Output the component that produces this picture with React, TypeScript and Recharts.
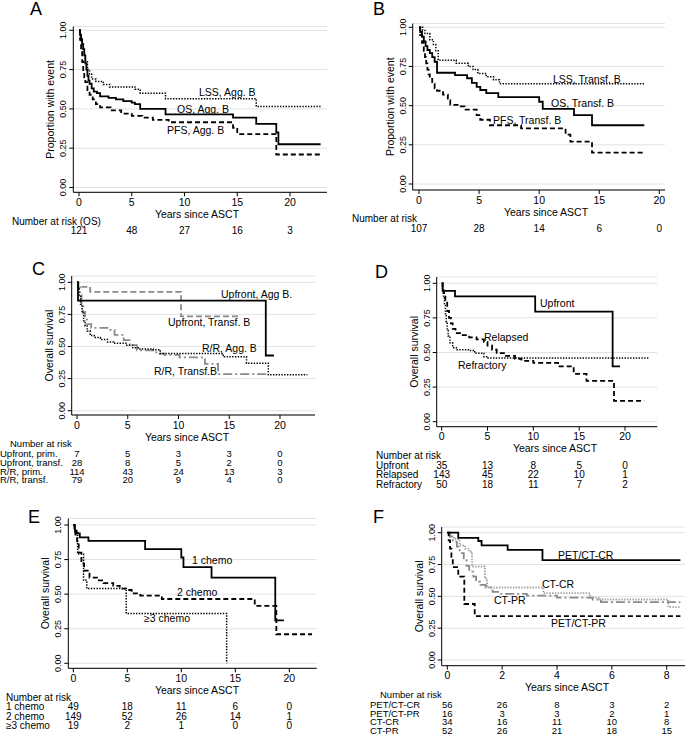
import React from "react";
import { LineChart, Line, XAxis, YAxis, CartesianGrid } from "recharts";

const FONT = "'Liberation Sans', Arial, Helvetica, sans-serif";

// Kaplan-Meier steps: [years since ASCT, proportion]
// A - aggressive B
const lssAggB = [[0, 1], [0.1, 0.98], [0.2, 0.95], [0.3, 0.92], [0.4, 0.88], [0.5, 0.84], [0.6, 0.8], [0.8, 0.75], [1.0, 0.72], [1.2, 0.69], [1.6, 0.675], [2.3, 0.655], [2.9, 0.64], [5.3, 0.625], [5.8, 0.6], [8.2, 0.565], [16.8, 0.515], [22.9, 0.515]];
const osAggB = [[0, 1], [0.1, 0.97], [0.2, 0.94], [0.3, 0.91], [0.4, 0.88], [0.5, 0.84], [0.6, 0.79], [0.7, 0.75], [0.8, 0.71], [0.9, 0.68], [1.0, 0.66], [1.2, 0.63], [1.4, 0.61], [1.7, 0.6], [2.0, 0.58], [2.8, 0.57], [3.5, 0.56], [4.2, 0.55], [5.0, 0.54], [5.3, 0.53], [5.8, 0.5], [8.2, 0.465], [14.6, 0.445], [16.8, 0.405], [18.7, 0.35], [18.9, 0.275], [22.9, 0.275]];
const pfsAggB = [[0, 1], [0.1, 0.94], [0.2, 0.87], [0.3, 0.8], [0.4, 0.74], [0.5, 0.7], [0.6, 0.67], [0.8, 0.62], [1.0, 0.59], [1.3, 0.56], [1.6, 0.53], [2.0, 0.51], [3.0, 0.49], [4.0, 0.47], [5.0, 0.455], [6.0, 0.445], [7.0, 0.43], [8.5, 0.415], [14.6, 0.38], [15.0, 0.34], [18.7, 0.21], [22.9, 0.21]];

// B - transformed B
const lssTrB = [[0, 1], [0.3, 0.98], [0.5, 0.96], [0.9, 0.92], [1.2, 0.89], [1.4, 0.85], [1.6, 0.79], [3.1, 0.77], [4.1, 0.75], [4.5, 0.73], [4.9, 0.705], [5.6, 0.685], [6.2, 0.665], [6.7, 0.64], [18.75, 0.64]];
const osTrB = [[0, 1], [0.1, 0.97], [0.25, 0.94], [0.4, 0.91], [0.55, 0.88], [0.7, 0.855], [0.9, 0.835], [1.1, 0.81], [1.3, 0.78], [1.5, 0.71], [3.0, 0.695], [4.0, 0.675], [4.4, 0.645], [4.8, 0.62], [5.1, 0.6], [5.6, 0.58], [6.6, 0.555], [10.0, 0.525], [10.3, 0.48], [12.9, 0.44], [14.4, 0.375], [18.75, 0.375]];
const pfsTrB = [[0, 1], [0.1, 0.95], [0.25, 0.9], [0.4, 0.85], [0.5, 0.81], [0.6, 0.77], [0.7, 0.73], [0.8, 0.7], [0.9, 0.67], [1.1, 0.64], [1.3, 0.61], [1.5, 0.595], [2.0, 0.57], [2.4, 0.535], [2.6, 0.505], [3.4, 0.495], [3.8, 0.475], [4.8, 0.44], [5.1, 0.41], [5.9, 0.375], [8.5, 0.355], [12.2, 0.315], [12.6, 0.27], [14.4, 0.2], [18.75, 0.2]];

// C - upfront vs relapsed/refractory by histology
const upAggC = [[0, 1], [0.1, 0.857], [18.6, 0.43], [19.4, 0.43]];
const upTrC = [[0, 1], [0.1, 0.964], [1.3, 0.925], [10.25, 0.735], [15.9, 0.735]];
const rrAggC = [[0, 1], [0.1, 0.95], [0.2, 0.9], [0.35, 0.83], [0.5, 0.76], [0.65, 0.7], [0.8, 0.66], [1.0, 0.62], [1.3, 0.585], [1.7, 0.57], [2.3, 0.555], [3.0, 0.535], [3.6, 0.525], [4.9, 0.51], [5.5, 0.49], [6.2, 0.48], [7.5, 0.475], [8.2, 0.445], [14.4, 0.42], [16.7, 0.37], [18.85, 0.28], [22.7, 0.28]];
const rrTrC = [[0, 1], [0.15, 0.96], [0.3, 0.9], [0.45, 0.83], [0.6, 0.77], [0.8, 0.71], [1.0, 0.675], [1.4, 0.645], [3.1, 0.63], [3.7, 0.59], [4.6, 0.55], [5.2, 0.51], [5.9, 0.47], [7.8, 0.445], [8.6, 0.435], [10.1, 0.415], [12.6, 0.365], [13.9, 0.285], [18.7, 0.285]];

// D - disease status
const upfrontD = [[0, 1], [0.1, 0.945], [1.45, 0.905], [10.2, 0.795], [18.65, 0.4], [19.45, 0.4]];
const relapsedD = [[0, 1], [0.1, 0.97], [0.2, 0.93], [0.4, 0.87], [0.6, 0.8], [0.8, 0.75], [1.0, 0.71], [1.2, 0.67], [1.5, 0.64], [2.0, 0.625], [3.0, 0.61], [3.8, 0.595], [4.6, 0.575], [5.0, 0.55], [5.5, 0.52], [6.0, 0.495], [7.0, 0.475], [8.0, 0.455], [8.7, 0.44], [10.0, 0.425], [12.7, 0.4], [14.4, 0.345], [15.8, 0.295], [18.8, 0.15], [22.1, 0.15]];
const refractoryD = [[0, 1], [0.1, 0.95], [0.2, 0.9], [0.3, 0.84], [0.4, 0.78], [0.5, 0.72], [0.6, 0.66], [0.7, 0.62], [0.9, 0.57], [1.2, 0.535], [1.6, 0.52], [3.0, 0.515], [3.6, 0.495], [4.6, 0.47], [4.9, 0.46], [22.7, 0.46]];

// E - lines of chemotherapy
const chemo1E = [[0, 1], [0.15, 0.96], [0.3, 0.94], [0.6, 0.91], [1.4, 0.885], [6.65, 0.825], [10.0, 0.765], [10.2, 0.695], [12.8, 0.62], [18.7, 0.31], [19.5, 0.31]];
const chemo2E = [[0, 1], [0.1, 0.96], [0.2, 0.93], [0.35, 0.87], [0.5, 0.8], [0.75, 0.72], [1.0, 0.67], [1.5, 0.62], [2.2, 0.6], [2.8, 0.58], [3.7, 0.56], [4.3, 0.54], [4.9, 0.53], [5.4, 0.505], [6.2, 0.49], [8.2, 0.465], [16.8, 0.415], [18.8, 0.21], [22.1, 0.21]];
const chemo3E = [[0, 1], [0.15, 0.947], [0.4, 0.79], [0.95, 0.6], [1.25, 0.54], [4.9, 0.36], [14.2, 0.0]];

// F - response before ASCT
const petCrF = [[0, 1], [0.4, 0.96], [1.13, 0.935], [1.25, 0.9], [2.2, 0.865], [3.47, 0.785], [8.5, 0.785]];
const petPrF = [[0, 1], [0.05, 0.94], [0.1, 0.875], [0.15, 0.81], [0.2, 0.73], [0.4, 0.655], [0.62, 0.44], [1.0, 0.345], [8.5, 0.345]];
const ctCrF = [[0, 1], [0.1, 0.97], [0.25, 0.95], [0.45, 0.9], [0.65, 0.875], [0.8, 0.85], [0.9, 0.735], [1.37, 0.64], [1.45, 0.57], [3.5, 0.525], [5.2, 0.49], [5.57, 0.475], [8.06, 0.415], [8.5, 0.415]];
const ctPrF = [[0, 1], [0.1, 0.97], [0.2, 0.93], [0.35, 0.89], [0.45, 0.84], [0.6, 0.785], [0.7, 0.74], [0.8, 0.695], [0.95, 0.655], [1.05, 0.615], [1.2, 0.59], [1.4, 0.57], [1.65, 0.535], [1.9, 0.52], [2.9, 0.505], [4.0, 0.49], [5.3, 0.475], [5.6, 0.455], [8.5, 0.455]];

// axis ticks
const yearTicks = [0, 5, 10, 15, 20];
const yearTicksF = [0, 2, 4, 6, 8];
const survTicks = [0, 0.25, 0.5, 0.75, 1];

// number at risk, one column per x tick
const riskA = [121, 48, 27, 16, 3];
const riskB = [107, 28, 14, 6, 0];
const riskUpPrimC = [7, 5, 3, 3, 0];
const riskUpTrC = [28, 8, 5, 2, 0];
const riskRrPrimC = [114, 43, 24, 13, 3];
const riskRrTrC = [79, 20, 9, 4, 0];
const riskUpfrontD = [35, 13, 8, 5, 0];
const riskRelapsedD = [143, 45, 22, 10, 1];
const riskRefractoryD = [50, 18, 11, 7, 2];
const risk1E = [49, 18, 11, 6, 0];
const risk2E = [149, 52, 26, 14, 1];
const risk3E = [19, 2, 1, 0, 0];
const riskPetCrF = [56, 26, 8, 3, 2];
const riskPetPrF = [16, 3, 3, 2, 1];
const riskCtCrF = [34, 16, 11, 10, 8];
const riskCtPrF = [52, 26, 21, 18, 15];

const rowNamesC = ["Upfront, prim.", "Upfront, transf.", "R/R, prim.", "R/R, transf."];
const rowNamesD = ["Upfront", "Relapsed", "Refractory"];
const rowNamesE = ["1 chemo", "2 chemo", "\u22653 chemo"];
const rowNamesF = ["PET/CT-CR", "PET/CT-PR", "CT-CR", "CT-PR"];

// line styles (Stata-like)
const solid = { color: "#000", dash: undefined, width: 1.8 };
const dashed = { color: "#000", dash: "5 3", width: 1.8 };
const dotted = { color: "#000", dash: "1.4 1.4", width: 1.5 };
const grayDash = { color: "#8a8a8a", dash: "6 3", width: 1.8 };
const grayDashDot = { color: "#8a8a8a", dash: "9 3 2 3", width: 1.8 };
const grayDot = { color: "#a0a0a0", dash: "1.4 1.4", width: 1.9 };

type Style = { color: string; dash?: string; width: number };
type Frame = {
  left: number; top: number; width: number; height: number;
  axisX: number; axisY: number; plotTop: number; plotRight: number;
  x0px: number; xRefPx: number; xRef: number; y1px: number; y0px: number;
};

const fA: Frame = { left: 0, top: 0, width: 340, height: 240, axisX: 73.3, axisY: 192.3, plotTop: 26.5, plotRight: 327, x0px: 79, xRefPx: 290, xRef: 20, y1px: 30.3, y0px: 187.5 };
const fB: Frame = { left: 340, top: 0, width: 345, height: 240, axisX: 412.7, axisY: 190, plotTop: 23.5, plotRight: 665, x0px: 419, xRefPx: 659.3, xRef: 20, y1px: 27.3, y0px: 184 };
const fC: Frame = { left: 0, top: 240, width: 340, height: 250, axisX: 71.7, axisY: 415, plotTop: 276, plotRight: 315, x0px: 77, xRefPx: 280, xRef: 20, y1px: 282.3, y0px: 410.7 };
const fD: Frame = { left: 340, top: 240, width: 345, height: 250, axisX: 436.7, axisY: 426.7, plotTop: 277, plotRight: 657.3, x0px: 441.7, xRefPx: 625, xRef: 20, y1px: 283.3, y0px: 421.7 };
const fE: Frame = { left: 0, top: 480, width: 340, height: 257, axisX: 68.3, axisY: 668.3, plotTop: 518.5, plotRight: 316.7, x0px: 73.3, xRefPx: 289.3, xRef: 20, y1px: 525, y0px: 663.3 };
const fF: Frame = { left: 340, top: 480, width: 350, height: 257, axisX: 441.7, axisY: 665.7, plotTop: 527, plotRight: 690, x0px: 447.3, xRefPx: 666.7, xRef: 8, y1px: 532.7, y0px: 660 };

// risk-table rows: baseline offsets below the x axis line
const rowGap = (n: number) => (n >= 4 ? 8.8 : 9.5);
const rowFont = (n: number) => (n >= 4 ? 9.5 : 10);
const FIRST_ROW = 42;
const NAR_ROW = 32.3;

function Panel({ f, ticks, curves, rows }: { f: Frame; ticks: number[]; curves: { data: number[][]; st: Style }[]; rows: number[][] }) {
  const sx = (f.xRefPx - f.x0px) / f.xRef;
  const xDom = [(f.axisX - f.x0px) / sx, (f.plotRight - f.x0px) / sx];
  const sy = f.y0px - f.y1px;
  const yDom = [-(f.axisY - f.y0px) / sy, 1 + (f.y1px - f.plotTop) / sy];
  const gap = rowGap(rows.length);
  const fs = rowFont(rows.length);

  // tick text sits 4px below the axis (tickSize 4, tickMargin 0)
  const xTick = (p: any) => {
    const i = typeof p.index === "number" ? p.index : ticks.indexOf(p.payload.value);
    return (
      <g>
        <text x={p.x} y={p.y + 9.5} textAnchor="middle" fontSize={10.5} fontFamily={FONT} fill="#000">
          {p.payload.value}
        </text>
        {rows.map((r, k) => (
          <text key={k} x={p.x} y={p.y - 4 + FIRST_ROW + gap * k} textAnchor="middle" fontSize={fs} fontFamily={FONT} fill="#000">
            {r[i]}
          </text>
        ))}
      </g>
    );
  };

  const yTick = (p: any) => (
    <text x={p.x} y={p.y} transform={`rotate(-90 ${p.x} ${p.y})`} textAnchor="middle" fontSize={9} fontFamily={FONT} fill="#000">
      {Number(p.payload.value).toFixed(2)}
    </text>
  );

  return (
    <div style={{ position: "absolute", left: f.left, top: f.top }}>
      <LineChart
        width={f.width}
        height={f.height}
        margin={{ top: f.plotTop - f.top, right: f.left + f.width - f.plotRight, bottom: f.top + f.height - f.axisY - 20, left: 0 }}
      >
        <CartesianGrid vertical={false} stroke="#e2e2e2" />
        <XAxis
          type="number"
          dataKey="t"
          domain={xDom}
          ticks={ticks}
          allowDataOverflow
          interval={0}
          height={20}
          tickSize={4}
          tickMargin={0}
          axisLine={{ stroke: "#000" }}
          tickLine={{ stroke: "#000" }}
          tick={xTick}
        />
        <YAxis
          type="number"
          domain={yDom}
          ticks={survTicks}
          allowDataOverflow
          interval={0}
          width={f.axisX - f.left}
          tickSize={4}
          tickMargin={3}
          axisLine={{ stroke: "#000" }}
          tickLine={{ stroke: "#000" }}
          tick={yTick}
        />
        {curves.map((c, i) => (
          <Line
            key={i}
            data={c.data.map(([t, s]) => ({ t, s }))}
            dataKey="s"
            type="stepAfter"
            stroke={c.st.color}
            strokeWidth={c.st.width}
            strokeDasharray={c.st.dash}
            dot={false}
            activeDot={false}
            isAnimationActive={false}
          />
        ))}
      </LineChart>
    </div>
  );
}

type Lab = { s: string; x: number; y: number };

const letters: Lab[] = [
  { s: "A", x: 30, y: 15 }, { s: "B", x: 373, y: 15 }, { s: "C", x: 32, y: 275 },
  { s: "D", x: 375, y: 278 }, { s: "E", x: 28, y: 523 }, { s: "F", x: 373, y: 523 },
];

const curveLabels: Lab[] = [
  { s: "LSS, Agg. B", x: 199, y: 96 }, { s: "OS, Agg. B", x: 177, y: 113 }, { s: "PFS, Agg. B", x: 167, y: 134 },
  { s: "LSS, Transf. B", x: 553, y: 83 }, { s: "OS, Transf. B", x: 551, y: 106.5 }, { s: "PFS, Transf. B", x: 493, y: 124 },
  { s: "Upfront, Agg B.", x: 221, y: 298 }, { s: "Upfront, Transf. B", x: 168, y: 326 }, { s: "R/R, Agg. B", x: 202, y: 352 }, { s: "R/R, Transf.B", x: 154, y: 375 },
  { s: "Upfront", x: 540, y: 307 }, { s: "Relapsed", x: 484, y: 341 }, { s: "Refractory", x: 458, y: 369 },
  { s: "1 chemo", x: 192, y: 564 }, { s: "2 chemo", x: 177, y: 596 }, { s: "\u22653 chemo", x: 144, y: 622 },
  { s: "PET/CT-CR", x: 558, y: 559 }, { s: "CT-CR", x: 542, y: 588 }, { s: "CT-PR", x: 494, y: 604 }, { s: "PET/CT-PR", x: 551, y: 627 },
];

const panelText = [
  { f: fA, yTitle: "Proportion with event", xTitleX: 197, nar: "Number at risk (OS)", narX: 12, rowX: 0, rowNames: [] as string[] },
  { f: fB, yTitle: "Proportion with event", xTitleX: 546, nar: "Number at risk", narX: 352, rowX: 0, rowNames: [] as string[] },
  { f: fC, yTitle: "Overall survival", xTitleX: 187, nar: "Number at risk", narX: 10, rowX: 0, rowNames: rowNamesC },
  { f: fD, yTitle: "Overall survival", xTitleX: 555, nar: "Number at risk", narX: 376, rowX: 376, rowNames: rowNamesD },
  { f: fE, yTitle: "Overall survival", xTitleX: 197, nar: "Number at risk", narX: 6, rowX: 6, rowNames: rowNamesE },
  { f: fF, yTitle: "Overall survival", xTitleX: 567, nar: "Number at risk", narX: 380, rowX: 370, rowNames: rowNamesF },
];

export default function App() {
  return (
    <div style={{ position: "absolute", left: 0, top: 0, width: 685, height: 737, overflow: "hidden", background: "#fff" }}>
      <Panel f={fA} ticks={yearTicks} rows={[riskA]} curves={[{ data: lssAggB, st: dotted }, { data: osAggB, st: solid }, { data: pfsAggB, st: dashed }]} />
      <Panel f={fB} ticks={yearTicks} rows={[riskB]} curves={[{ data: lssTrB, st: dotted }, { data: osTrB, st: solid }, { data: pfsTrB, st: dashed }]} />
      <Panel
        f={fC}
        ticks={yearTicks}
        rows={[riskUpPrimC, riskUpTrC, riskRrPrimC, riskRrTrC]}
        curves={[{ data: upTrC, st: grayDash }, { data: rrTrC, st: grayDashDot }, { data: rrAggC, st: dotted }, { data: upAggC, st: solid }]}
      />
      <Panel
        f={fD}
        ticks={yearTicks}
        rows={[riskUpfrontD, riskRelapsedD, riskRefractoryD]}
        curves={[{ data: refractoryD, st: dotted }, { data: relapsedD, st: dashed }, { data: upfrontD, st: solid }]}
      />
      <Panel
        f={fE}
        ticks={yearTicks}
        rows={[risk1E, risk2E, risk3E]}
        curves={[{ data: chemo3E, st: dotted }, { data: chemo2E, st: dashed }, { data: chemo1E, st: solid }]}
      />
      <Panel
        f={fF}
        ticks={yearTicksF}
        rows={[riskPetCrF, riskPetPrF, riskCtCrF, riskCtPrF]}
        curves={[{ data: ctCrF, st: grayDot }, { data: ctPrF, st: grayDashDot }, { data: petPrF, st: dashed }, { data: petCrF, st: solid }]}
      />
      <svg width={685} height={737} style={{ position: "absolute", left: 0, top: 0, pointerEvents: "none" }} fontFamily={FONT} fill="#000">
        {letters.map((l) => (
          <text key={l.s} x={l.x} y={l.y} fontSize={18}>{l.s}</text>
        ))}
        {curveLabels.map((l, i) => (
          <text key={i} x={l.x} y={l.y} fontSize={10.5}>{l.s}</text>
        ))}
        {panelText.map((p, i) => {
          const cy = (p.f.plotTop + p.f.axisY) / 2;
          const tx = p.f.axisX - 19;
          const n = p.rowNames.length;
          return (
            <g key={i}>
              <text x={tx} y={cy} transform={`rotate(-90 ${tx} ${cy})`} textAnchor="middle" fontSize={10.5}>{p.yTitle}</text>
              <text x={p.xTitleX} y={p.f.axisY + 25.5} textAnchor="middle" fontSize={10.5}>Years since ASCT</text>
              <text x={p.narX} y={p.f.axisY + NAR_ROW} fontSize={rowFont(n)}>{p.nar}</text>
              {p.rowNames.map((name, k) => (
                <text key={k} x={p.rowX} y={p.f.axisY + FIRST_ROW + rowGap(n) * k} fontSize={rowFont(n)}>{name}</text>
              ))}
            </g>
          );
        })}
      </svg>
    </div>
  );
}
